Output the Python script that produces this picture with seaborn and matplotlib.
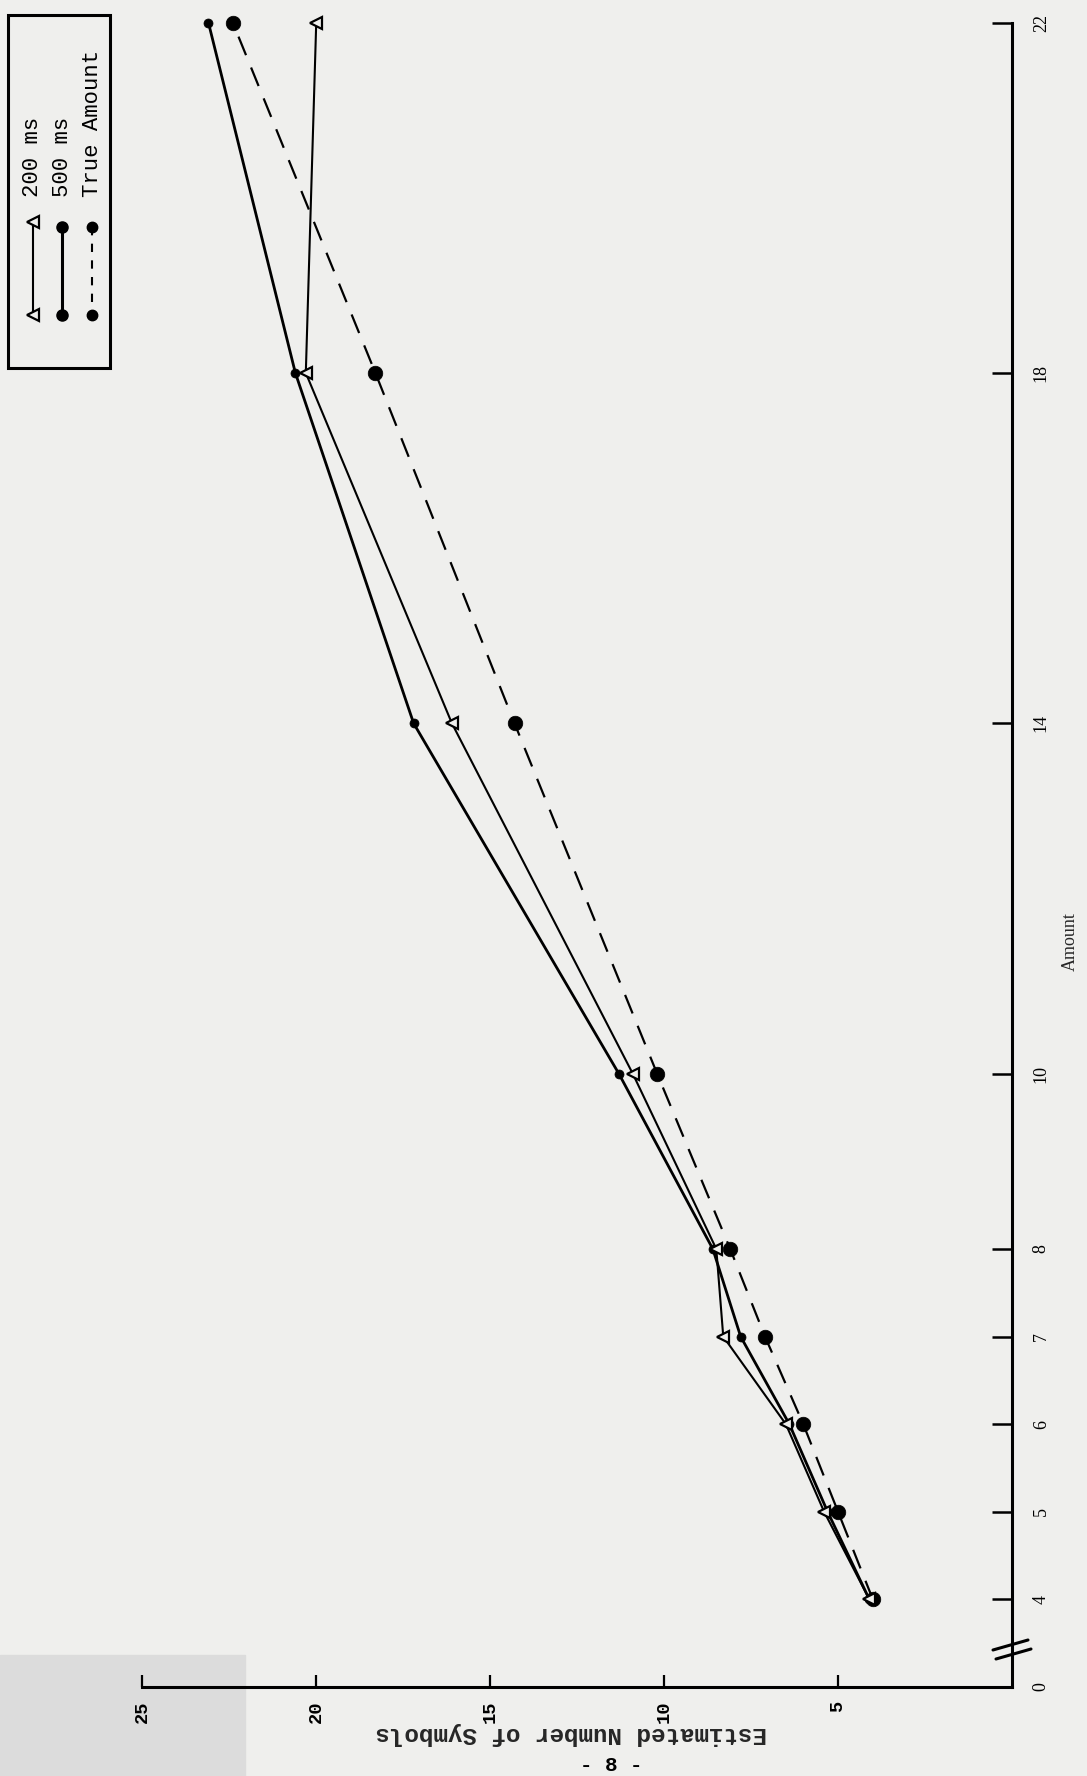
import matplotlib
matplotlib.use("Agg")
import matplotlib.pyplot as plt
from matplotlib.lines import Line2D
from matplotlib.patches import Rectangle
import seaborn as sns
import pandas as pd

# ---- data ----
amount = [4, 5, 6, 7, 8, 10, 14, 18, 22]
est_200ms = [4.1, 5.4, 6.5, 8.3, 8.5, 10.9, 16.1, 20.3, 20.0]
est_500ms = [4.1, 5.3, 6.4, 7.8, 8.6, 11.3, 17.2, 20.6, 23.1]
est_true = [4.0, 5.0, 6.0, 7.1, 8.1, 10.2, 14.3, 18.3, 22.4]

amount_ticks = [3, 4, 5, 6, 7, 8, 10, 14, 18, 22]        # 3 = broken-axis origin
amount_ticklabels = ["0", "4", "5", "6", "7", "8", "10", "14", "18", "22"]
est_ticks = [25, 20, 15, 10, 5]
est_ticklabels = ["25", "20", "15", "10", "5"]
series_labels = ["200 ms", "500 ms", "True Amount"]

df = pd.DataFrame({"amount": amount, "200 ms": est_200ms,
                   "500 ms": est_500ms, "True Amount": est_true})

sns.set_theme(style="ticks")
MONO = ["Liberation Mono", "DejaVu Sans Mono"]
SERIF = ["Liberation Serif", "DejaVu Serif"]
plt.rcParams["font.family"] = MONO

W, H = 1087, 1776
BG = "#efefed"
fig = plt.figure(figsize=(W / 100, H / 100), dpi=100, facecolor=BG)

def fx(x):
    return x / W

def fy(y):
    return 1 - y / H

# scan shading at bottom-left
fig.patches.append(Rectangle((0, fy(1776)), fx(245), fy(1655) - fy(1776),
                             transform=fig.transFigure, color="#dcdcdc",
                             zorder=-5))

x_left, x_right = 142.3, 1012.0
y_top, y_bot = 22.5, 1687.0
ax = fig.add_axes([fx(x_left), fy(y_bot), fx(x_right) - fx(x_left),
                   fy(y_top) - fy(y_bot)])
ax.set_facecolor("none")

common = dict(orient="y", sort=False, estimator=None, ax=ax, color="black",
              legend=False, clip_on=False)
sns.lineplot(data=df, x="True Amount", y="amount", linewidth=1.6,
             linestyle=(0, (9, 6)), marker="o", markersize=10.5,
             markeredgecolor="black", markeredgewidth=0.5, **common)
sns.lineplot(data=df, x="500 ms", y="amount", linewidth=2.0,
             marker="o", markersize=6.5, markeredgecolor="black",
             markeredgewidth=0.5, **common)
sns.lineplot(data=df, x="200 ms", y="amount", linewidth=1.5,
             marker="<", markersize=9, markerfacecolor=BG,
             markeredgecolor="black", markeredgewidth=1.6, **common)

ax.set_xlim(25, 0)
ax.set_ylim(3, 22)

for s in ["top", "left"]:
    ax.spines[s].set_visible(False)
for s in ["bottom", "right"]:
    ax.spines[s].set_linewidth(2.2)
    ax.spines[s].set_color("black")

ax.set_xticks(est_ticks)
ax.set_xticklabels(est_ticklabels, fontfamily=MONO, fontsize=13.5,
                   fontweight="bold")
ax.tick_params(axis="x", direction="in", length=8.6, width=1.6,
               pad=10, labelrotation=90, colors="black")

ax.yaxis.tick_right()
ax.set_yticks(amount_ticks)
ax.set_yticklabels(amount_ticklabels, fontfamily=SERIF, fontsize=13)
ax.tick_params(axis="y", direction="in", length=14.4, width=1.8,
               pad=15, labelrotation=90, colors="black")
for lab in ax.get_yticklabels():
    lab.set_va("center")
ax.yaxis.get_major_ticks()[0].tick2line.set_visible(False)

ax.set_xlabel("Estimated Number of Symbols", fontfamily=MONO, fontsize=17.5,
              fontweight="bold", rotation=180, ha="center", va="center")
ax.xaxis.set_label_coords((571 - x_left) / (x_right - x_left),
                          (y_bot - 1733) / (y_bot - y_top))
ax.yaxis.set_label_position("right")
ax.set_ylabel("Amount", fontfamily=SERIF, fontsize=13, rotation=90,
              ha="center", va="center")
ax.yaxis.set_label_coords((1070 - x_left) / (x_right - x_left),
                          (y_bot - 942) / (y_bot - y_top))

# axis break marks
for (x0, y0, x1, y1) in [(993, 1650, 1028, 1640), (996, 1659, 1031, 1649)]:
    fig.add_artist(Line2D([fx(x0), fx(x1)], [fy(y0), fy(y1)],
                          transform=fig.transFigure, color="black", lw=2.2))

# ---- hand-built rotated legend ----
fig.add_artist(Rectangle((fx(8), fy(368)), fx(110) - fx(8), fy(15) - fy(368),
                         transform=fig.transFigure, fill=False,
                         edgecolor="black", linewidth=2.2))
fig.add_artist(Line2D([fx(33), fx(33)], [fy(222), fy(315)],
                      transform=fig.transFigure, color="black", lw=1.5,
                      marker="<", markersize=9, markerfacecolor=BG,
                      markeredgecolor="black", markeredgewidth=1.6))
fig.add_artist(Line2D([fx(62), fx(62)], [fy(227), fy(315)],
                      transform=fig.transFigure, color="black", lw=2.2,
                      marker="o", markersize=8, markeredgecolor="black"))
fig.add_artist(Line2D([fx(92), fx(92)], [fy(227), fy(315)],
                      transform=fig.transFigure, color="black", lw=1.5,
                      linestyle=(0, (4, 4)), marker="o", markersize=7.5,
                      markeredgecolor="black"))
for xpos, lab in zip([33, 62, 93], series_labels):
    fig.text(fx(xpos), fy(197), lab, rotation=90, ha="center", va="bottom",
             fontfamily=MONO, fontsize=16, color="black")

fig.text(fx(611), fy(1765), "- 8 -", ha="center", va="center",
         fontfamily=MONO, fontsize=15, fontweight="bold", color="black")

fig.savefig("out.png", dpi=100, facecolor=BG)
